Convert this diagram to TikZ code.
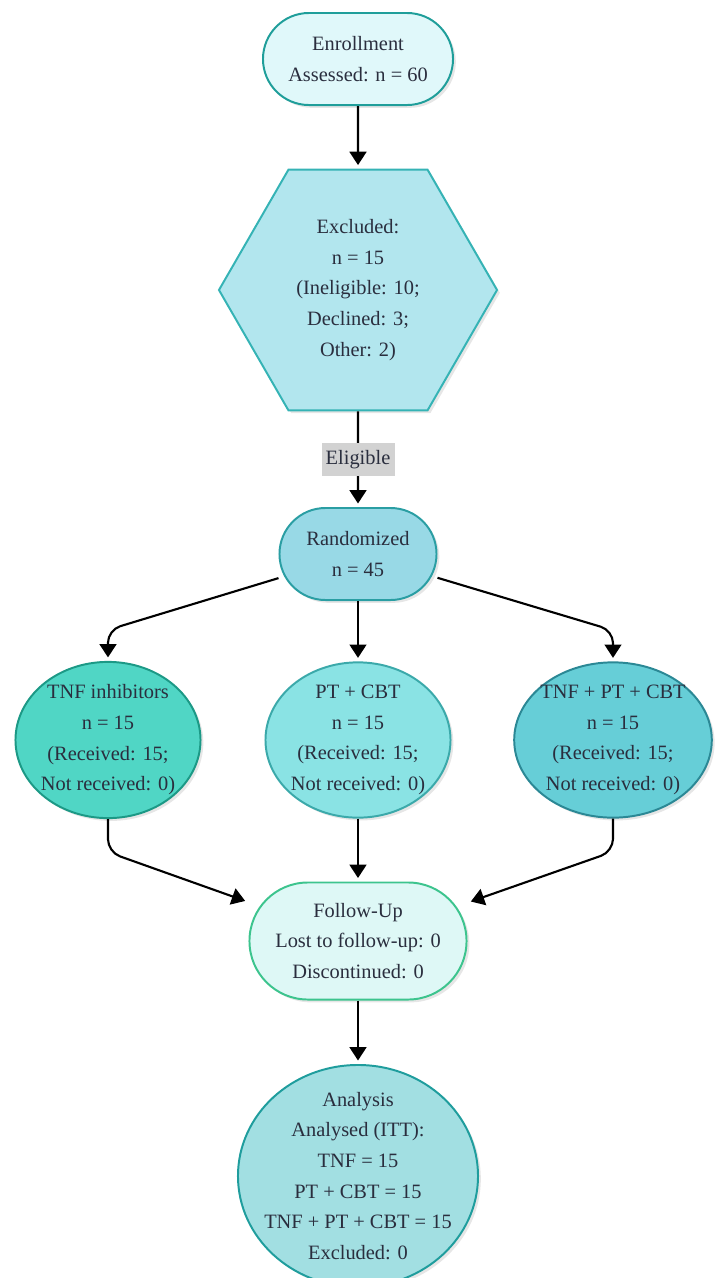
\documentclass[tikz,border=0pt]{standalone}
\usepackage{fontspec}
\setmainfont{Liberation Serif}
\usetikzlibrary{shapes.geometric, shadows, calc, arrows.meta}

\definecolor{ink}{HTML}{2A2E3E}
\definecolor{enrfill}{HTML}{E0F8FA}
\definecolor{enrline}{HTML}{1F9E9A}
\definecolor{hexfill}{HTML}{B2E6EE}
\definecolor{hexline}{HTML}{35B3B5}
\definecolor{randfill}{HTML}{98D9E6}
\definecolor{randline}{HTML}{2A9EA3}
\definecolor{tnffill}{HTML}{50D6C5}
\definecolor{tnfline}{HTML}{1C9986}
\definecolor{midfill}{HTML}{8AE3E4}
\definecolor{midline}{HTML}{3BA9AA}
\definecolor{combofill}{HTML}{66CED7}
\definecolor{comboline}{HTML}{2B8895}
\definecolor{followfill}{HTML}{DEF8F6}
\definecolor{followline}{HTML}{3DC48E}
\definecolor{anafill}{HTML}{A2DFE2}
\definecolor{analine}{HTML}{1F9D9D}

\begin{document}
\begin{tikzpicture}[
            x=0.025cm, y=-0.025cm,
            box/.style={draw, line width=1.4pt, align=center, text=ink,
                font=\fontsize{14.5}{21.8}\selectfont,
                drop shadow={shadow xshift=2pt, shadow yshift=-2pt, opacity=0.2}},
            pill/.style={box, rectangle, rounded corners=1.15cm, minimum height=2.3cm},
            oval/.style={box, ellipse, inner xsep=-2pt, inner ysep=0pt, minimum width=4.625cm, minimum height=3.875cm},
            hexa/.style={box, regular polygon, regular polygon sides=6, inner sep=0pt, minimum size=6.95cm},
            arrow/.style={-{Triangle[width=12pt, length=9.5pt]}, line width=1.5pt, shorten >=2.5pt},
            elbow/.style={arrow, rounded corners=9pt},
            tag/.style={fill=gray!35, inner xsep=3pt, inner ysep=5pt, text=ink, font=\fontsize{14.5}{17}\selectfont}
        ]
            \useasboundingbox (0,0) rectangle (718,1278);

            \node [pill, fill=enrfill, draw=enrline, minimum width=4.75cm] (enr) at (358,59) {Enrollment\\Assessed: n = 60};
            \node [hexa, fill=hexfill, draw=hexline] (hex) at (358,290) {Excluded:\\n = 15\\(Ineligible: 10;\\Declined: 3;\\Other: 2)};
            \node [pill, fill=randfill, draw=randline, minimum width=3.925cm] (rand) at (358,554) {Randomized\\n = 45};

            \node [oval, fill=tnffill, draw=tnfline] (tnf) at (108,740) {TNF inhibitors\\n = 15\\(Received: 15;\\Not received: 0)};
            \node [oval, fill=midfill, draw=midline] (mid) at (358,740) {PT + CBT\\n = 15\\(Received: 15;\\Not received: 0)};
            \node [oval, fill=combofill, draw=comboline] (combo) at (613,740) {TNF + PT + CBT\\n = 15\\(Received: 15;\\Not received: 0)};

            \node [pill, fill=followfill, draw=followline, minimum width=5.425cm, minimum height=2.925cm, rounded corners=1.46cm] (follow) at (358,941) {Follow-Up\\Lost to follow-up: 0\\Discontinued: 0};
            \node [box, ellipse, fill=anafill, draw=analine, inner xsep=-9pt, inner ysep=-4pt, minimum width=6cm, minimum height=5.55cm] (ana) at (358,1176) {Analysis\\Analysed (ITT):\\TNF = 15\\PT + CBT = 15\\TNF + PT + CBT = 15\\Excluded: 0};

            \draw [arrow] (enr) -- (hex);
            \draw [arrow] (hex) -- node (elig) [tag] {Eligible} (rand);

            \draw [elbow] (rand) -- ($(tnf.north)+(0,-31)$) -- (tnf);
            \draw [arrow] (rand) -- (mid);
            \draw [elbow] (rand) -- ($(combo.north)+(0,-31)$) -- (combo);

            \draw [elbow] (tnf) -- ($(tnf.south)+(0,33)$) -- (follow);
            \draw [arrow] (mid) -- (follow);
            \draw [elbow] (combo) -- ($(combo.south)+(0,33)$) -- (follow);

            \draw [arrow] (follow) -- (ana);

        \end{tikzpicture}
\end{document}
